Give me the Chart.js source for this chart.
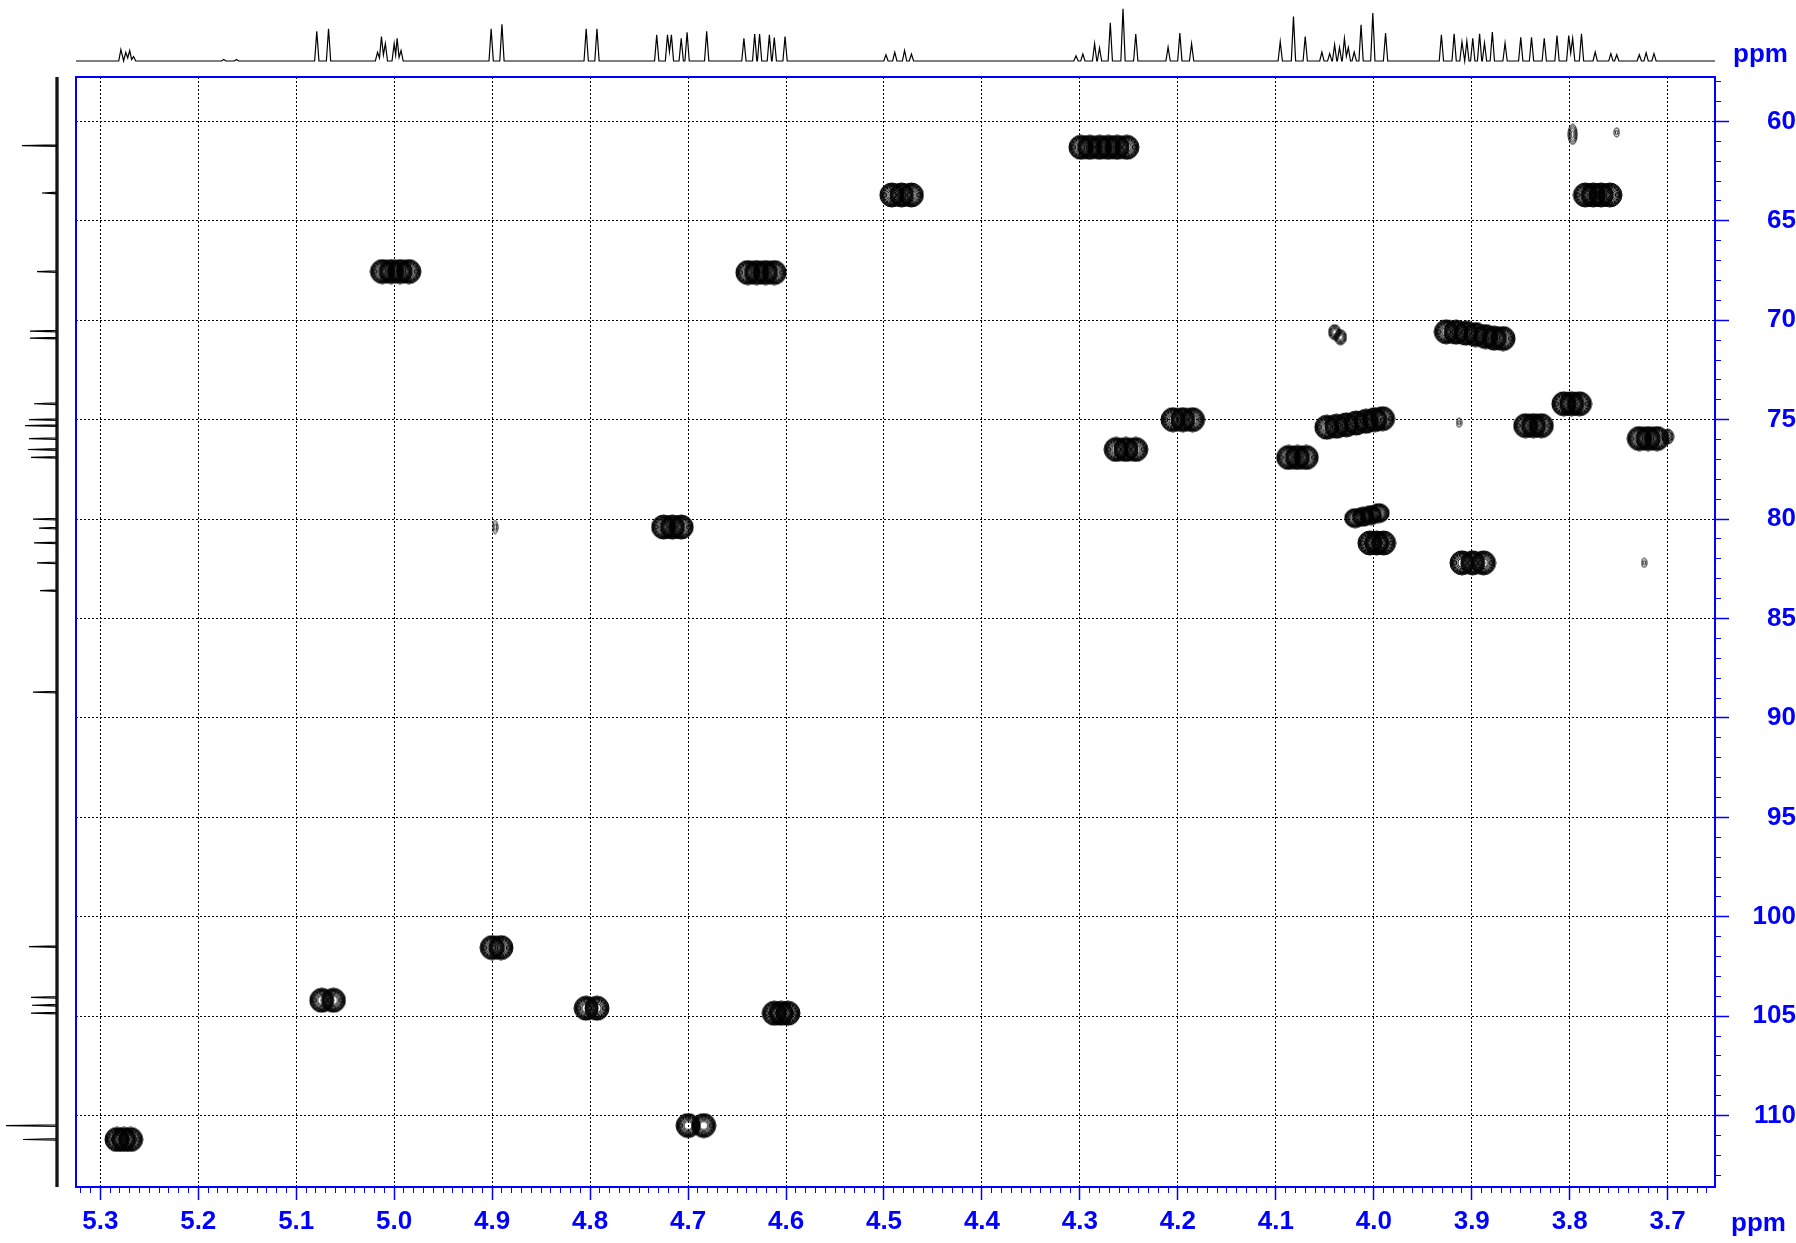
<!DOCTYPE html>
<html>
<head>
<meta charset="utf-8">
<script src="https://cdn.jsdelivr.net/npm/chart.js@4.4.0/dist/chart.umd.min.js"></script>
<style>
  html, body { margin: 0; padding: 0; background: #fff; overflow: hidden; }
  canvas { position: absolute; left: 0; top: 0; }
</style>
</head>
<body>
<canvas id="main" width="1796" height="1243"></canvas>
<canvas id="top" width="1796" height="70"></canvas>
<canvas id="left" width="76" height="1243"></canvas>
<script>
// axis ranges (ppm)
const xRange = [3.6517, 5.3248];
const yRange = [57.767, 113.59];
const xMajorTicks = [5.3, 5.2, 5.1, 5.0, 4.9, 4.8, 4.7, 4.6, 4.5, 4.4, 4.3, 4.2, 4.1, 4.0, 3.9, 3.8, 3.7];
const yMajorTicks = [60, 65, 70, 75, 80, 85, 90, 95, 100, 105, 110];

// 1H projection (top): line positions and heights
const protonShift = [
  5.279, 5.274, 5.270, 5.266, 5.174, 5.161, 5.079, 5.067,
  5.017, 5.013, 5.009, 5.000, 4.997, 4.993, 4.901, 4.890, 4.804, 4.793,
  4.732, 4.721, 4.717, 4.707, 4.701, 4.681,
  4.643, 4.632, 4.627, 4.617, 4.612, 4.601,
  4.498, 4.489, 4.479, 4.472, 4.304, 4.297, 4.285, 4.280, 4.269, 4.256, 4.243,
  4.210, 4.198, 4.186, 4.0955, 4.082, 4.070,
  4.053, 4.045, 4.040, 4.035, 4.030, 4.026, 4.020, 4.013, 4.001, 3.988,
  3.931, 3.918, 3.910, 3.905, 3.899, 3.892, 3.887, 3.879, 3.866, 3.850, 3.839,
  3.826, 3.813, 3.801, 3.797, 3.788, 3.774, 3.758, 3.752, 3.729, 3.722, 3.714
];
const protonHeight = [
  11.3, 8.7, 10.5, 4.4, 1.5, 1.5, 29.6, 32.2,
  8.7, 24.4, 17.4, 17.4, 22.6, 10.5, 32.2, 36.6, 32.2, 32.2,
  26.1, 26.1, 26.1, 22.6, 28.7, 29.6,
  22.6, 27.0, 27.0, 26.1, 23.5, 24.4,
  6.1, 8.7, 10.5, 7.0, 5.2, 7.0, 17.4, 13.0, 38.3, 52.3, 27.0,
  13.9, 27.9, 17.4, 19.3, 44.4, 24.5,
  9.0, 7.3, 16.3, 13.6, 22.7, 13.6, 9.0, 36.3, 48.0, 28.0,
  26.3, 27.2, 19.0, 20.0, 22.7, 27.2, 18.0, 29.0, 18.0, 23.6, 23.6,
  22.7, 25.4, 25.4, 22.7, 27.2, 9.0, 7.3, 6.3, 6.3, 8.2, 7.3
];

// 13C projection (left): line positions and heights
const carbonShift = [61.22, 63.6, 67.55, 70.55, 70.9, 74.2, 75.0, 75.3, 75.95, 76.5, 76.9,
  80.0, 80.45, 81.2, 82.2, 83.6, 88.7, 101.5, 104.05, 104.45, 104.85, 110.5, 111.2];
const carbonHeight = [35, 15, 20, 27, 27, 23, 28, 32, 28, 29, 26,
  24, 18, 23, 20, 17, 24, 28, 26, 25, 26, 51, 34];

// HSQC cross peaks: 13C shift and the 1H multiplet lines of each peak
const crossC = [111.2, 104.2, 67.55, 101.55, 104.6, 80.4, 110.5, 67.6, 104.85, 63.7, 61.3,
  76.5, 75.0, 76.9, [75.38, 75.33, 75.26, 75.17, 75.08, 75.0, 74.95], 81.2, 82.2,
  [70.58, 70.6, 70.65, 70.72, 70.82, 70.9, 70.92], 75.3, 74.2, 63.7, 75.95];
const crossH = [
  [5.283, 5.276, 5.269],
  [5.074, 5.062],
  [5.012, 5.003, 4.994, 4.985],
  [4.900, 4.891],
  [4.804, 4.793],
  [4.725, 4.716, 4.707],
  [4.700, 4.684],
  [4.639, 4.630, 4.621, 4.612],
  [4.612, 4.605, 4.598],
  [4.492, 4.482, 4.472],
  [4.299, 4.290, 4.280, 4.271, 4.262, 4.252],
  [4.263, 4.253, 4.243],
  [4.205, 4.195, 4.185],
  [4.087, 4.078, 4.069],
  [4.048, 4.038, 4.028, 4.018, 4.008, 3.999, 3.991],
  [4.004, 3.997, 3.990],
  [3.910, 3.899, 3.888],
  [3.926, 3.916, 3.906, 3.896, 3.886, 3.877, 3.868],
  [3.845, 3.837, 3.829],
  [3.806, 3.798, 3.790],
  [3.784, 3.776, 3.768, 3.759],
  [3.729, 3.720, 3.711]
];
const midH = [4.019, 4.011, 4.003, 3.995];
const midC = [79.95, 79.88, 79.8, 79.7];
const smallH = [4.040, 4.034, 3.700];
const smallC = [70.6, 70.85, 75.85];
const narrowH = [3.797];
const narrowC = [60.65];
const sliverH = [4.897];
const sliverC = [80.4];
const tinyH = [3.913, 3.752, 3.724];
const tinyC = [75.15, 60.55, 82.2];

const BLUE = '#0000ff';
const FONT = '"Liberation Sans", Arial, sans-serif';

const xTickValues = [];
for (let i = 366; i <= 532; i++) xTickValues.push(i / 100);
const yTickValues = [];
for (let i = 58; i <= 113; i++) yTickValues.push(i);

const isMajorX = (v) => xMajorTicks.some(m => Math.abs(m - v) < 1e-6);
const isMajorY = (v) => yMajorTicks.some(m => Math.abs(m - v) < 1e-6);

// little contour picture used as point style
function contourSprite(w, h, rings, lw) {
  const c = document.createElement('canvas');
  c.width = w + 2;
  c.height = h + 2;
  const g = c.getContext('2d');
  g.strokeStyle = '#000';
  g.lineWidth = lw || 1;
  rings.forEach(f => {
    g.beginPath();
    g.ellipse(c.width / 2, c.height / 2, f * w / 2, f * h / 2, 0, 0, 2 * Math.PI);
    g.stroke();
  });
  return c;
}

const bigRings = [1, 0.95, 0.9, 0.85, 0.8, 0.74, 0.67, 0.58, 0.47, 0.34];

function spotData(hs, cs) {
  return hs.map((h, i) => ({ x: h, y: cs[i] }));
}

const crossPoints = [];
crossH.forEach((list, i) => {
  list.forEach((h, j) => {
    const c = Array.isArray(crossC[i]) ? crossC[i][j] : crossC[i];
    crossPoints.push({ x: h, y: c });
  });
});

function spotSet(data, sprite) {
  return {
    data,
    pointStyle: sprite,
    pointRadius: 2,
    pointBorderWidth: 0,
    showLine: false,
    clip: false
  };
}

// frame around the plot and the two "ppm" units
const framePlugin = {
  id: 'frame',
  afterDatasetsDraw(chart) {
    const { ctx, chartArea: a } = chart;
    ctx.save();
    ctx.strokeStyle = BLUE;
    ctx.lineWidth = 2;
    ctx.strokeRect(a.left, a.top, a.right - a.left, a.bottom - a.top);
    ctx.fillStyle = BLUE;
    ctx.font = 'bold 26px ' + FONT;
    ctx.textAlign = 'left';
    ctx.textBaseline = 'alphabetic';
    ctx.fillText('ppm', a.right + 18, a.top - 15.5);
    ctx.fillText('ppm', a.right + 16, a.bottom + 44);
    ctx.restore();
  }
};

const tickFont = { family: FONT, size: 26, weight: 'bold' };

new Chart(document.getElementById('main'), {
  type: 'scatter',
  data: {
    datasets: [
      spotSet(crossPoints, contourSprite(24, 24, bigRings)),
      spotSet(spotData(midH, midC), contourSprite(21, 19, bigRings)),
      spotSet(spotData(smallH, smallC), contourSprite(12, 15, [1, 0.86, 0.72, 0.56, 0.38])),
      spotSet(spotData(narrowH, narrowC), contourSprite(9, 20, [1, 0.8, 0.6, 0.35])),
      spotSet(spotData(sliverH, sliverC), contourSprite(5, 13, [1, 0.55])),
      spotSet(spotData(tinyH, tinyC), contourSprite(5, 9, [1, 0.5]))
    ]
  },
  options: {
    responsive: false,
    animation: false,
    events: [],
    layout: { padding: { left: 76, top: 77, right: 0, bottom: 0 } },
    plugins: { legend: { display: false }, tooltip: { enabled: false } },
    scales: {
      x: {
        type: 'linear',
        position: 'bottom',
        min: xRange[0],
        max: xRange[1],
        reverse: true,
        afterBuildTicks: (s) => { s.ticks = xTickValues.map(value => ({ value })); },
        afterFit: (s) => { s.height = 56; },
        grid: {
          color: (c) => (c.tick && isMajorX(c.tick.value) ? '#000' : 'rgba(0,0,0,0)'),
          lineWidth: 1,
          tickLength: 13,
          tickColor: BLUE,
          tickWidth: (c) => (c.tick && isMajorX(c.tick.value) ? 1.5 : 1),
          tickBorderDash: (c) => (c.tick && isMajorX(c.tick.value) ? [] : [5, 40])
        },
        border: { color: BLUE, width: 2, dash: [2, 2] },
        ticks: {
          color: BLUE,
          font: tickFont,
          padding: 6,
          autoSkip: false,
          maxRotation: 0,
          minRotation: 0,
          callback: (v) => (isMajorX(v) ? v.toFixed(1) : '')
        }
      },
      y: {
        type: 'linear',
        position: 'right',
        min: yRange[0],
        max: yRange[1],
        reverse: true,
        afterBuildTicks: (s) => { s.ticks = yTickValues.map(value => ({ value })); },
        afterFit: (s) => { s.width = 81; },
        grid: {
          color: (c) => (c.tick && isMajorY(c.tick.value) ? '#000' : 'rgba(0,0,0,0)'),
          lineWidth: 1,
          tickLength: 14,
          tickColor: BLUE,
          tickWidth: (c) => (c.tick && isMajorY(c.tick.value) ? 1.5 : 1),
          tickBorderDash: (c) => (c.tick && isMajorY(c.tick.value) ? [] : [5, 40])
        },
        border: { color: BLUE, width: 2, dash: [2, 2] },
        ticks: {
          color: BLUE,
          font: tickFont,
          padding: 6,
          crossAlign: 'far',
          autoSkip: false,
          callback: (v) => (isMajorY(v) ? String(v) : '')
        }
      }
    }
  },
  plugins: [framePlugin]
});

// stick spectrum: each line becomes a narrow peak on a flat baseline
function stickSpectrum(shifts, heights, halfWidth, start, end) {
  const order = shifts.map((s, i) => i).sort((a, b) => shifts[a] - shifts[b]);
  const pts = [{ p: start, v: 0 }];
  order.forEach((i, k) => {
    const s = shifts[i];
    const h = heights[i];
    if (k > 0 && s - shifts[order[k - 1]] < 2 * halfWidth) {
      const prev = order[k - 1];
      pts.push({ p: (s + shifts[prev]) / 2, v: 0.35 * Math.min(h, heights[prev]) });
    } else {
      pts.push({ p: s - halfWidth, v: 0 });
    }
    pts.push({ p: s, v: h });
    if (k === order.length - 1 || shifts[order[k + 1]] - s >= 2 * halfWidth) {
      pts.push({ p: s + halfWidth, v: 0 });
    }
  });
  pts.push({ p: end, v: 0 });
  return pts;
}

const hiddenAxis = { display: false };

const topPts = stickSpectrum(protonShift, protonHeight, 0.0022, xRange[0], xRange[1]);
new Chart(document.getElementById('top'), {
  type: 'scatter',
  data: {
    datasets: [{
      data: topPts.map(q => ({ x: q.p, y: q.v })),
      showLine: true,
      borderColor: '#000',
      borderWidth: 1.2,
      pointRadius: 0,
      tension: 0,
      clip: false
    }]
  },
  options: {
    responsive: false,
    animation: false,
    events: [],
    layout: { padding: { left: 76, right: 81, top: 0, bottom: 9 } },
    plugins: { legend: { display: false }, tooltip: { enabled: false } },
    scales: {
      x: { ...hiddenAxis, type: 'linear', min: xRange[0], max: xRange[1], reverse: true },
      y: { ...hiddenAxis, type: 'linear', min: 0, max: 61 }
    }
  }
});

const leftPts = stickSpectrum(carbonShift, carbonHeight, 0.04, yRange[0], yRange[1]);
new Chart(document.getElementById('left'), {
  type: 'scatter',
  data: {
    datasets: [
      {
        data: [{ x: 0, y: yRange[0] }, { x: 0, y: yRange[1] }],
        showLine: true,
        borderColor: 'rgba(0,0,0,0.8)',
        borderWidth: 3.5,
        pointRadius: 0,
        clip: false
      },
      {
        data: leftPts.map(q => ({ x: q.v, y: q.p })),
        showLine: true,
        borderColor: '#000',
        borderWidth: 1.2,
        pointRadius: 0,
        tension: 0,
        clip: false
      }
    ]
  },
  options: {
    responsive: false,
    animation: false,
    events: [],
    layout: { padding: { left: 0, right: 19, top: 77, bottom: 56 } },
    plugins: { legend: { display: false }, tooltip: { enabled: false } },
    scales: {
      x: { ...hiddenAxis, type: 'linear', min: 0, max: 57, reverse: true },
      y: { ...hiddenAxis, type: 'linear', min: yRange[0], max: yRange[1], reverse: true }
    }
  }
});
</script>
</body>
</html>
